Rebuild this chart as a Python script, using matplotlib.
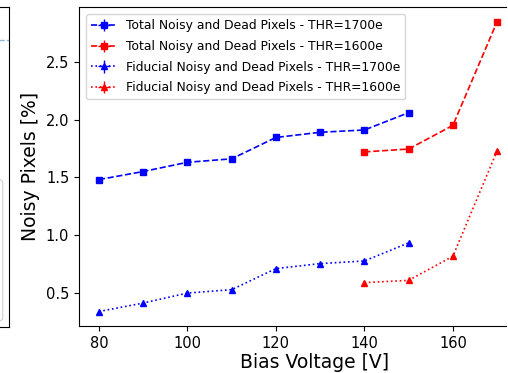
import matplotlib
matplotlib.use("Agg")
import matplotlib.pyplot as plt
from matplotlib.patches import FancyBboxPatch

# Bias voltage scan [V]
bias_1700 = [80, 90, 100, 110, 120, 130, 140, 150]
bias_1600 = [140, 150, 160, 170]

# Noisy + dead pixel fractions [%]
total_1700 = [1.48, 1.55, 1.63, 1.66, 1.845, 1.89, 1.91, 2.06]
total_1600 = [1.72, 1.745, 1.95, 2.85]
fiducial_1700 = [0.337, 0.41, 0.497, 0.526, 0.709, 0.752, 0.775, 0.932]
fiducial_1600 = [0.587, 0.607, 0.816, 1.73]

# Uncertainties (negligible on this scale)
err_1700 = [0.0] * len(bias_1700)
err_1600 = [0.0] * len(bias_1600)

labels = [
    "Total Noisy and Dead Pixels - THR=1700e",
    "Total Noisy and Dead Pixels - THR=1600e",
    "Fiducial Noisy and Dead Pixels - THR=1700e",
    "Fiducial Noisy and Dead Pixels - THR=1600e",
]

# Neighbouring panel reference level (axes fraction)
neighbour_level = [0.897]

W, H = 508, 373
fig = plt.figure(figsize=(W / 100, H / 100), dpi=100)

# Neighbouring panel, mostly outside the canvas
axn = fig.add_axes([-0.6, 1 - 327 / H, 0.6 + 9 / W, (327 - 7) / H])
axn.set_xlim(0, 1)
axn.set_ylim(0, 1)
axn.set_xticks([])
axn.set_yticks([])
for lvl in neighbour_level:
    axn.axhline(lvl, color="#8fb4d8", ls="--", lw=1.0)
axn.add_patch(FancyBboxPatch((0.3, 0.02), 0.68, 0.44,
                             boxstyle="round,pad=0.0,rounding_size=0.01",
                             transform=axn.transAxes, fc="white", ec="#d0d0d0", lw=0.8))

# Main panel, running up to the right edge of the canvas
left_px, right_px = 79, W - 2
x_lo = 75.5
px_per_v = 4.425
ax_w = right_px - left_px
x_hi = x_lo + ax_w / px_per_v
ax = fig.add_axes([left_px / W, 1 - 326 / H, ax_w / W, (326 - 7) / H])
ax.spines["right"].set_visible(False)

kw = dict(capsize=0, elinewidth=1.0, lw=1.2, markersize=4)
ax.errorbar(bias_1700, total_1700, yerr=err_1700, xerr=err_1700, fmt="s--",
            color="blue", label=labels[0], **kw)
ax.errorbar(bias_1600, total_1600, yerr=err_1600, xerr=err_1600, fmt="s--",
            color="red", label=labels[1], **kw)
ax.errorbar(bias_1700, fiducial_1700, yerr=err_1700, xerr=err_1700, fmt="^:",
            color="blue", label=labels[2], **kw)
ax.errorbar(bias_1600, fiducial_1600, yerr=err_1600, xerr=err_1600, fmt="^:",
            color="red", label=labels[3], **kw)

ax.set_xlim(x_lo, x_hi)
ax.set_xticks([80, 100, 120, 140, 160])
ax.set_yticks([0.5, 1.0, 1.5, 2.0, 2.5])
ax.tick_params(labelsize=10.5)
ax.set_xlabel("Bias Voltage [V]", fontsize=13.5)
ax.set_ylabel("Noisy Pixels [%]", fontsize=13.5)
ax.xaxis.set_label_coords((315 - left_px) / ax_w, -0.085)
ax.legend(loc="upper left", fontsize=8.9, borderaxespad=0.6, labelspacing=0.62)

fig.savefig("out.png", dpi=100)
